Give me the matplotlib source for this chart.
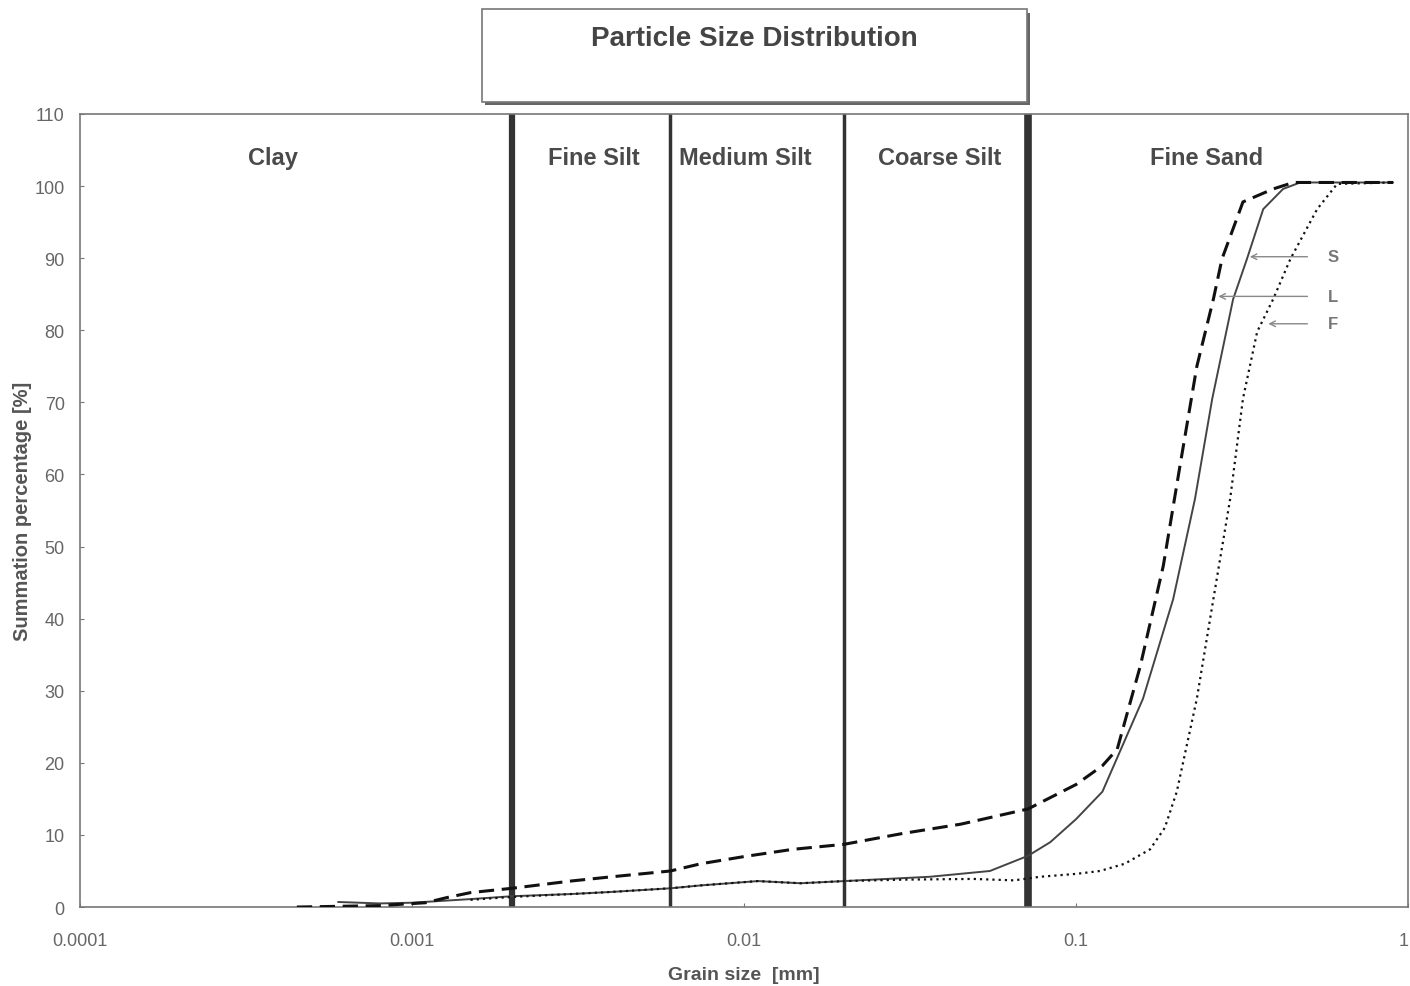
import matplotlib
matplotlib.use("Agg")
import matplotlib.pyplot as plt
from matplotlib.patches import Rectangle

plt.rcParams['font.family'] = ['Liberation Sans', 'DejaVu Sans']

# grain size [mm] / summation percentage [%]
size_l = [0.00045, 0.0008, 0.0011, 0.00127, 0.0015, 0.002, 0.003, 0.004, 0.006, 0.0074, 0.01,
          0.014, 0.02, 0.03, 0.045, 0.0716, 0.1, 0.12, 0.133, 0.156, 0.183, 0.2055,
          0.231, 0.259, 0.275, 0.318, 0.392, 0.451, 0.9]
pct_l = [0.0, 0.2, 0.6, 1.3, 2.0, 2.6, 3.6, 4.2, 5.0, 6.0, 7.0,
         8.0, 8.7, 10.2, 11.5, 13.6, 17.0, 19.6, 21.9, 33.4, 47.3, 61.2,
         75.0, 84.3, 89.9, 97.8, 99.6, 100.5, 100.5]

size_s = [0.0006, 0.0008, 0.001, 0.0015, 0.002, 0.003, 0.004, 0.006, 0.0074, 0.011, 0.0148,
          0.02, 0.0363, 0.055, 0.0716, 0.0836, 0.1, 0.12, 0.159, 0.196, 0.228, 0.257,
          0.297, 0.327, 0.366, 0.42, 0.473, 0.9]
pct_s = [0.7, 0.5, 0.6, 1.1, 1.5, 1.8, 2.1, 2.6, 3.0, 3.6, 3.3,
         3.6, 4.2, 5.0, 7.1, 9.0, 12.2, 16.0, 28.9, 42.7, 56.6, 70.5,
         84.3, 89.9, 96.8, 99.6, 100.5, 100.5]

size_f = [0.0015, 0.002, 0.003, 0.004, 0.006, 0.0074, 0.011, 0.0148, 0.02, 0.03, 0.049, 0.065,
          0.078, 0.1, 0.118, 0.14, 0.167, 0.185, 0.201, 0.231, 0.259, 0.291, 0.318,
          0.351, 0.392, 0.442, 0.532, 0.611, 0.9]
pct_f = [1.0, 1.4, 1.8, 2.1, 2.6, 3.0, 3.6, 3.3, 3.6, 3.8, 3.9, 3.7,
         4.2, 4.6, 5.0, 6.0, 8.0, 11.0, 16.0, 28.9, 42.7, 56.6, 70.5,
         79.8, 84.3, 89.9, 96.8, 100.3, 100.5]

# class boundaries [mm] and widths
bounds = [0.002, 0.006, 0.02, 0.0716]
bound_widths = [4.5, 2.5, 2.5, 5.5]

classes = ['Clay', 'Fine Silt', 'Medium Silt', 'Coarse Silt', 'Fine Sand']
class_x = [0.00038, 0.00353, 0.0101, 0.0389, 0.2465]

# curve markers: (label, tip x, tip y)
marks = [('S', 0.327, 90.2), ('L', 0.263, 84.7), ('F', 0.372, 80.9)]

ticks_x = [0.0001, 0.001, 0.01, 0.1, 1]
tick_labels_x = ['0.0001', '0.001', '0.01', '0.1', '1']

fig = plt.figure(figsize=(14.1, 9.87), dpi=100)
ax = fig.add_axes([0.0567, 0.080, 0.942, 0.8035])

grey = '#555555'
for b, w in zip(bounds, bound_widths):
    ax.axvline(b, color='#333333', lw=w, zorder=2)

ax.plot(size_s, pct_s, color='#444444', lw=1.4, zorder=3)
ax.plot(size_l, pct_l, color='#111111', lw=2.2, ls=(0, (5, 2.5)), zorder=3)
ax.plot(size_f, pct_f, color='#111111', lw=1.6, ls=(0, (1, 1.8)), zorder=3)

for name, xc in zip(classes, class_x):
    ax.text(xc, 104.0, name, ha='center', va='center', fontsize=17,
            fontweight='bold', color='#4a4a4a')

for name, xt, yt in marks:
    ax.annotate('', xy=(xt, yt), xytext=(0.507, yt),
                arrowprops=dict(arrowstyle='->', color='#888888', lw=1.0))
    ax.text(0.594, yt, name, ha='center', va='center', fontsize=12,
            fontweight='bold', color='#777777')

ax.set_xscale('log')
ax.set_xlim(0.0001, 1)
ax.set_ylim(0, 110)
ax.set_xticks(ticks_x)
ax.set_xticklabels(tick_labels_x)
ax.get_xticklabels()[-1].set_ha('right')
ax.minorticks_off()
ax.set_yticks(range(0, 111, 10))
ax.tick_params(colors='#777777', labelcolor='#666666', labelsize=13, length=3, direction='in')
ax.tick_params(axis='x', pad=18)
ax.tick_params(axis='y', pad=11)
for s in ax.spines.values():
    s.set_color('#777777')
    s.set_linewidth(1.2)

ax.set_xlabel('Grain size  [mm]', fontsize=14, fontweight='bold', color=grey, labelpad=12)
ax.set_ylabel('Summation percentage [%]', fontsize=14.5, fontweight='bold', color=grey, labelpad=2)

# title box with shadow
fig.patches.append(Rectangle((0.3440, 0.8925), 0.3865, 0.0935, transform=fig.transFigure,
                             facecolor='#666666', edgecolor='none', zorder=0))
fig.patches.append(Rectangle((0.3418, 0.8960), 0.3865, 0.0935, transform=fig.transFigure,
                             facecolor='white', edgecolor='#777777', lw=1.2, zorder=1))
fig.text(0.535, 0.960, 'Particle Size Distribution', ha='center', va='center',
         fontsize=20, fontweight='bold', color='#444444')

fig.savefig('out.png', dpi=100)
